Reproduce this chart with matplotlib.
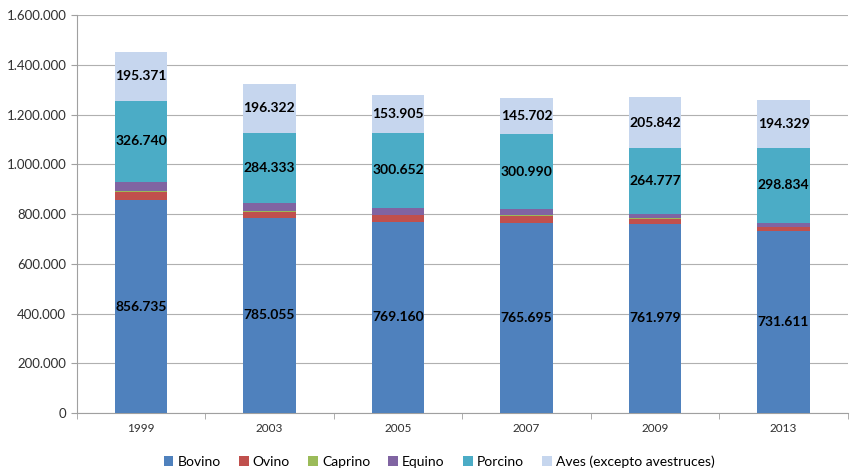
import matplotlib
matplotlib.use("Agg")
import matplotlib.pyplot as plt
import numpy as np

years = ["1999", "2003", "2005", "2007", "2009", "2013"]
bovino = [856735, 785055, 769160, 765695, 761979, 731611]
ovino = [32000, 24000, 26000, 27000, 19000, 15000]
caprino = [4000, 3000, 3000, 3000, 2000, 3000]
equino = [36000, 31000, 27000, 24000, 17000, 16000]
porcino = [326740, 284333, 300652, 300990, 264777, 298834]
aves = [195371, 196322, 153905, 145702, 205842, 194329]

series = [
    ("Bovino", bovino, "#4F81BD", True),
    ("Ovino", ovino, "#C0504D", False),
    ("Caprino", caprino, "#9BBB59", False),
    ("Equino", equino, "#8064A2", False),
    ("Porcino", porcino, "#4BACC6", True),
    ("Aves (excepto avestruces)", aves, "#C6D6EE", True),
]

plt.rcParams['font.family'] = ['Lato', 'DejaVu Sans']

fig = plt.figure(figsize=(8.52, 4.70), dpi=100)
ax = fig.add_axes([0.090, 0.121, 0.905, 0.847])

x = np.arange(len(years))
bottom = np.zeros(len(years))
for name, vals, col, lab in series:
    vals = np.array(vals, dtype=float)
    ax.bar(x, vals, 0.41, bottom=bottom, color=col, label=name, zorder=3)
    if lab:
        for xi, b, v in zip(x, bottom, vals):
            ax.text(xi, b + v / 2, f"{int(v):,}".replace(",", "."), ha="center", va="center",
                    fontsize=10, fontweight="bold", color="black", zorder=4)
    bottom += vals

def fmt(v, p):
    return f"{int(v):,}".replace(",", ".")

ax.set_ylim(0, 1600000)
ax.set_yticks(np.arange(0, 1600001, 200000))
ax.yaxis.set_major_formatter(matplotlib.ticker.FuncFormatter(fmt))
ax.set_xlim(-0.5, len(years) - 0.5)
ax.set_xticks(x)
ax.set_xticklabels(years)
ax.grid(axis="y", color="#B0B0B0", linewidth=0.8, zorder=0)
for s in ["top", "right"]:
    ax.spines[s].set_visible(False)
ax.spines["left"].set_color("#A0A0A0")
ax.spines["bottom"].set_color("#A0A0A0")
ax.tick_params(axis="y", labelsize=9.5, colors="#303030", length=4, color="#A0A0A0")
ax.tick_params(axis="x", labelsize=8.5, colors="#303030")
ax.set_xticks(np.arange(-0.5, len(years), 1), minor=True)
ax.tick_params(axis="x", which="major", length=0, pad=7)
ax.tick_params(axis="x", which="minor", length=4, color="#A0A0A0")

ax.legend(loc="upper center", bbox_to_anchor=(0.47, -0.075), ncol=6, frameon=False,
          fontsize=10, handlelength=0.7, handleheight=0.7, handletextpad=0.3, columnspacing=1.3)

fig.savefig("out.png", dpi=100)
